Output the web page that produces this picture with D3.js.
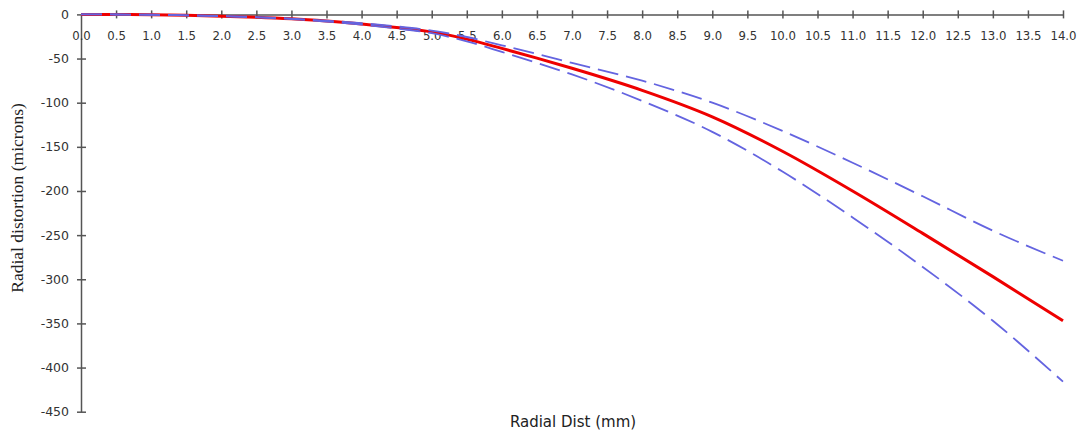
<!DOCTYPE html>
<html>
<head>
<meta charset="utf-8">
<script src="https://cdn.jsdelivr.net/npm/d3@7"></script>
<style>
  html, body { margin: 0; padding: 0; background: #fff; }
  svg { display: block; }
</style>
</head>
<body>
<svg id="chart" width="1087" height="437"></svg>
<script>
// Radial distance (mm)
const radialDist = [0, 0.5, 1, 1.5, 2, 2.5, 3, 3.5, 4, 4.5, 5, 5.5, 6, 6.5, 7, 8, 9, 10, 11, 12, 13, 14];
// Mean radial distortion (microns)
const distortion = [0, -0.1, -0.4, -1, -2, -3.2, -5, -7.6, -10.8, -14.8, -19.8, -28, -38.5, -49.5, -61, -86, -116, -155, -200, -248, -297, -347];
// Upper confidence bound
const upperBound = [0, -0.1, -0.4, -1, -1.9, -3.0, -4.7, -7.1, -10.0, -13.6, -18.3, -25.6, -35, -44.8, -55, -75, -100, -132, -168, -206, -245, -279];
// Lower confidence bound
const lowerBound = [0, -0.1, -0.4, -1, -2.1, -3.4, -5.3, -8.1, -11.6, -16.0, -21.3, -30.5, -42.5, -55, -68, -98, -133, -178, -230, -286, -347, -416];

const xTicks = d3.range(0, 14.01, 0.5);
const yTicks = d3.range(0, -451, -50);

const svg = d3.select("#chart");
const x = d3.scaleLinear().domain([0, 14]).range([81, 1063]);
const y = d3.scaleLinear().domain([0, -450]).range([14.4, 411.7]);

const tickFont = "'DejaVu Sans Condensed', 'Liberation Sans Narrow', 'Liberation Sans', sans-serif";

// Y axis
const yAxis = svg.append("g")
  .attr("transform", `translate(${x(0)},0)`)
  .call(d3.axisLeft(y).tickValues(yTicks).tickSizeInner(5).tickSizeOuter(0).tickPadding(7)
    .tickFormat(d => String(d)));
yAxis.select(".domain").attr("stroke", "#555").attr("stroke-width", 1.5);
yAxis.selectAll(".tick line").attr("x1", -4).attr("x2", 5).attr("stroke", "#555").attr("stroke-width", 1.5);
yAxis.selectAll(".tick text").attr("x", -12).style("font-family", "'DejaVu Sans', sans-serif").style("font-size", "12.5px").attr("fill", "#333");

// X axis (at y = 0)
const xAxis = svg.append("g")
  .attr("transform", `translate(0,${y(0)})`)
  .call(d3.axisBottom(x).tickValues(xTicks).tickSizeInner(4).tickSizeOuter(0).tickPadding(12).tickFormat(d3.format(".1f")));
xAxis.select(".domain").attr("stroke", "#555").attr("stroke-width", 1.5);
xAxis.selectAll(".tick line").attr("y1", -4).attr("y2", 4).attr("stroke", "#555").attr("stroke-width", 1.5);
xAxis.selectAll(".tick text").style("font-family", tickFont).style("font-size", "13px").attr("fill", "#333");
xAxis.selectAll(".tick").filter(d => d === 0).select("line").remove();

const line = (vals) => d3.line()
  .x((d, i) => x(radialDist[i]))
  .y(d => y(d))
  .curve(d3.curveMonotoneX)(vals);

// Mean curve
svg.append("path")
  .attr("d", line(distortion))
  .attr("fill", "none")
  .attr("stroke", "#ee0000")
  .attr("stroke-width", 3);

// Bounds
[upperBound, lowerBound].forEach(vals => {
  svg.append("path")
    .attr("d", line(vals))
    .attr("fill", "none")
    .attr("stroke", "#6464e0")
    .attr("stroke-width", 1.8)
    .attr("stroke-dasharray", "21,8");
});

// Axis titles
svg.append("text")
  .attr("x", 573).attr("y", 427)
  .attr("text-anchor", "middle")
  .style("font-family", "'DejaVu Sans', sans-serif")
  .style("font-size", "15px")
  .attr("fill", "#222")
  .text("Radial Dist (mm)");

svg.append("text")
  .attr("transform", "translate(23,198) rotate(-90)")
  .attr("text-anchor", "middle")
  .style("font-family", "'Liberation Serif', 'Times New Roman', serif")
  .style("font-size", "17.5px")
  .attr("fill", "#222")
  .text("Radial distortion (microns)");
</script>
</body>
</html>
